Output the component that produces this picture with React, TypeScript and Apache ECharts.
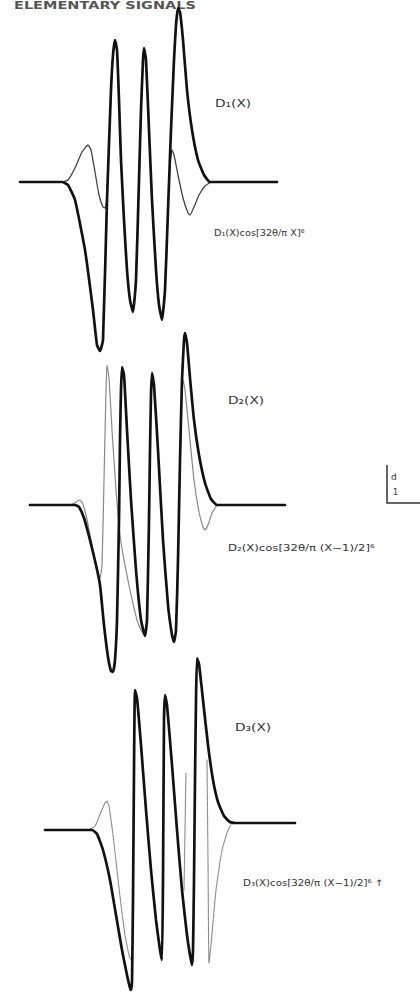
import React, { useEffect, useRef } from "react";
import * as echarts from "echarts";

const titleText = "ELEMENTARY SIGNALS";

// Panel 1: D1(X) and modulated version (x in X-units, y amplitude)
const p1Thick = [[2.0,0],[6.2,0],[6.8,-0.3],[7.5,-1.8],[8.5,-6.8],[9.3,-12.8],[9.7,-16.3],[10.0,-16.9],[10.3,-15.8],[10.7,-1.8],[11.1,9.2],[11.3,12.7],[11.5,14.2],[11.7,13.2],[11.9,8.2],[12.1,2.2],[12.4,-3.8],[12.7,-8.8],[13.0,-11.8],[13.3,-13.0],[13.6,-9.8],[13.9,0.2],[14.1,7.2],[14.3,12.2],[14.4,13.4],[14.6,12.2],[14.9,5.2],[15.2,-1.8],[15.6,-8.8],[15.9,-12.3],[16.2,-13.8],[16.5,-10.8],[16.8,-2.8],[17.1,5.2],[17.4,12.2],[17.6,15.7],[17.8,17.4],[18.0,17.0],[18.3,14.2],[18.7,9.2],[19.2,5.2],[19.8,2.2],[20.4,0.7],[21.0,0],[27.7,0]];
const p1Thin = [[6.2,0],[6.8,0.2],[7.5,1.4],[8.2,3.0],[8.8,3.7],[9.1,3.2],[9.5,1.0],[9.9,-1.3],[10.3,-2.5],[10.5,-2.6],[10.7,-1.8],[11.1,9.2],[11.3,12.7],[11.5,14.2],[11.7,13.2],[11.9,8.2],[12.1,2.2],[12.4,-3.8],[12.7,-8.8],[13.0,-11.8],[13.3,-13.0],[13.6,-9.8],[13.9,0.2],[14.1,7.2],[14.3,12.2],[14.4,13.4],[14.6,12.2],[14.9,5.2],[15.2,-1.8],[15.6,-8.8],[15.9,-12.3],[16.2,-13.8],[16.5,-10.8],[16.8,-2.8],[17.0,1.7],[17.2,3.2],[17.4,2.7],[17.8,0.7],[18.3,-1.6],[18.8,-3.1],[19.0,-3.3],[19.4,-2.5],[19.9,-1.3],[20.5,-0.4],[21.1,0]];

// Panel 2
const p2Thick = [[3.0,0],[7.5,0],[7.9,-0.2],[8.4,-1.3],[9.0,-3.5],[9.6,-6.0],[10.0,-8.0],[10.4,-12.0],[10.8,-15.2],[11.1,-16.6],[11.3,-16.7],[11.5,-15.5],[11.7,-11.5],[11.9,-1.5],[12.0,6.5],[12.1,11.5],[12.2,13.8],[12.4,13.0],[12.7,7.5],[13.1,0.5],[13.6,-6.5],[14.1,-11.5],[14.5,-13.1],[14.7,-11.5],[14.9,-1.5],[15.0,5.5],[15.1,11.0],[15.2,13.2],[15.4,12.0],[15.8,5.5],[16.3,-3.5],[16.8,-10.0],[17.2,-13.0],[17.4,-13.7],[17.6,-12.5],[17.8,-5.5],[18.0,4.5],[18.2,12.5],[18.4,16.5],[18.5,17.2],[18.7,16.2],[19.0,12.7],[19.4,8.5],[19.9,5.0],[20.5,2.2],[21.1,0.6],[21.7,0],[28.5,0]];
const p2Thin = [[7.0,0],[7.5,0.2],[7.9,0.5],[8.2,0.3],[8.6,-1.0],[9.2,-4.0],[9.7,-6.5],[10.0,-7.3],[10.2,-6.0],[10.4,2.5],[10.6,11.5],[10.7,14.0],[10.9,12.7],[11.2,7.5],[11.6,1.5],[12.0,-3.0],[12.4,-5.5],[13.0,-8.5],[13.7,-11.5],[14.1,-12.5],[14.5,-13.1],[14.7,-11.5],[14.9,-1.5],[15.0,5.5],[15.1,11.0],[15.2,13.2],[15.4,12.0],[15.8,5.5],[16.3,-3.5],[16.8,-10.0],[17.2,-13.0],[17.4,-13.7],[17.6,-12.5],[17.8,-5.5],[18.0,4.5],[18.2,11.5],[18.3,12.5],[18.5,11.5],[18.9,7.5],[19.4,2.5],[19.9,-0.7],[20.3,-2.2],[20.5,-2.5],[20.8,-2.0],[21.2,-0.8],[21.7,0]];

// Panel 3
const p3Thick = [[4.5,-0.2],[9.2,-0.2],[9.7,-0.6],[10.3,-2.2],[11.0,-5.2],[11.6,-8.7],[12.2,-12.2],[12.7,-14.7],[13.0,-16.0],[13.1,-16.2],[13.2,-15.4],[13.3,-7.2],[13.4,5.8],[13.5,13.8],[13.7,13.0],[14.1,8.3],[14.6,1.8],[15.1,-4.2],[15.6,-9.2],[16.0,-12.2],[16.2,-13.2],[16.3,-5.2],[16.4,10.8],[16.5,13.3],[16.7,12.3],[17.2,6.3],[17.7,-0.2],[18.2,-6.2],[18.7,-10.7],[19.0,-12.7],[19.2,-13.7],[19.3,-12.2],[19.4,-5.2],[19.5,4.8],[19.6,12.8],[19.7,17.0],[19.9,16.4],[20.3,12.8],[20.8,8.3],[21.3,4.8],[21.8,2.6],[22.4,1.2],[23.0,0.6],[23.6,0.5],[29.5,0.5]];
const p3ThinA = [[8.8,-0.2],[9.5,0.2],[10.1,1.6],[10.5,2.5],[10.7,2.7],[10.9,2.2],[11.3,-0.7],[11.7,-4.2],[12.1,-7.7],[12.5,-10.7],[12.9,-12.7],[13.2,-13.4]];
const p3ThinB = [[18.4,-6.2],[18.5,-0.2],[18.6,5.5]];
const p3ThinC = [[20.7,6.8],[20.8,-3.2],[20.9,-13.5],[21.1,-11.7],[21.6,-6.2],[22.2,-2.2],[22.8,-0.2],[23.1,0.3]];

const labelsDX = ["D\u2081(X)", "D\u2082(X)", "D\u2083(X)"];
const labelsCos = [
  "D\u2081(X)cos[32\u03b8/\u03c0 X]\u2076",
  "D\u2082(X)cos[32\u03b8/\u03c0 (X\u22121)/2]\u2076",
  "D\u2083(X)cos[32\u03b8/\u03c0 (X\u22121)/2]\u2076 \u2191",
];

export default function App() {
  const ref = useRef<HTMLDivElement>(null);
  useEffect(() => {
    document.body.style.margin = "0";
    const chart = echarts.init(ref.current!, null, { renderer: "svg" });
    const grids = [
      { left: 0, width: 420, top: 2, height: 360 },
      { left: 0, width: 420, top: 325, height: 360 },
      { left: 0, width: 420, top: 648, height: 348 },
    ];
    const yRanges = [[-18, 18], [-18, 18], [-16.8, 18]];
    const xAxis = grids.map((_, i) => ({ type: "value", gridIndex: i, min: 0, max: 42, show: false }));
    const yAxis = grids.map((_, i) => ({ type: "value", gridIndex: i, min: yRanges[i][0], max: yRanges[i][1], show: false }));
    const mk = (data: number[][], idx: number, color: string, width: number, type: string = "solid", z = 2) => ({
      type: "line",
      xAxisIndex: idx,
      yAxisIndex: idx,
      data,
      symbol: "none",
      showSymbol: false,
      smooth: 0.15,
      lineStyle: { color, width, type, join: "round", cap: "round" },
      z,
      silent: true,
    });
    const font = "DejaVu Sans";
    const txt = (x: number, y: number, text: string, size = 10, sx = 1) => ({
      type: "text",
      x,
      y,
      scaleX: sx,
      style: { text, fontSize: size, fontFamily: font, fill: "#333", verticalAlign: "middle" },
    });
    chart.setOption({
      animation: false,
      backgroundColor: "#ffffff",
      grid: grids,
      xAxis,
      yAxis,
      series: [
        mk(p1Thin, 0, "#444", 1.3, "solid", 1),
        mk(p1Thick, 0, "#111", 2.7, "solid", 2),
        mk(p2Thin, 1, "#888", 1.2, "solid", 1),
        mk(p2Thick, 1, "#111", 2.7, "solid", 2),
        mk(p3ThinA, 2, "#888", 1.2, "dotted", 1),
        mk(p3ThinB, 2, "#888", 1.2, "dotted", 1),
        mk(p3ThinC, 2, "#888", 1.2, "dotted", 1),
        mk(p3Thick, 2, "#111", 2.7, "solid", 2),
      ],
      graphic: [
        {
          type: "text",
          x: 14,
          y: 0,
          scaleX: 1.45,
          style: { text: titleText, fontSize: 10, fontWeight: "bold", fontFamily: font, fill: "#555", verticalAlign: "top" },
        },
        txt(215, 103, labelsDX[0], 11, 1.25),
        txt(214, 233, labelsCos[0], 9, 1.08),
        txt(228, 400, labelsDX[1], 11, 1.25),
        txt(228, 548, labelsCos[1], 9, 1.3),
        txt(235, 727, labelsDX[2], 11, 1.25),
        txt(243, 883, labelsCos[2], 9, 1.14),
        {
          type: "polyline",
          shape: { points: [[387, 465], [387, 503], [420, 503]] },
          style: { stroke: "#333", lineWidth: 1.5, fill: "none" },
        },
        txt(391, 477, "d", 9),
        txt(393, 492, "1", 8),
      ],
    });
    return () => chart.dispose();
  }, []);
  return (
    <div
      ref={ref}
      style={{ position: "absolute", left: 0, top: 0, width: 420, height: 996, background: "#fff" }}
    />
  );
}
